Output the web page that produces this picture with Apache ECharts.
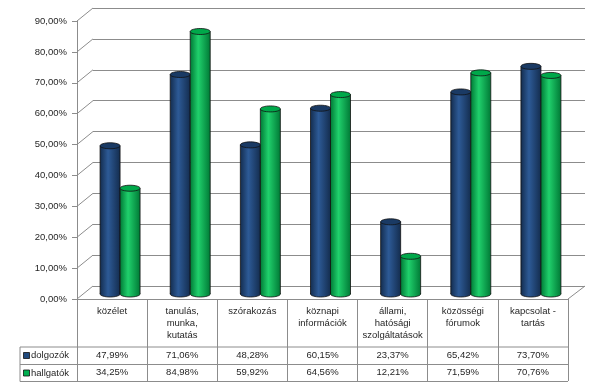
<!DOCTYPE html>
<html><head><meta charset="utf-8">
<script src="https://cdn.jsdelivr.net/npm/echarts@6/dist/echarts.min.js"></script>
<style>html,body{margin:0;padding:0;background:#fff}#c{width:606px;height:389px}</style>
</head><body><div id="c"></div>
<script>
const categories = ["közélet", "tanulás,\nmunka,\nkutatás", "szórakozás", "köznapi\ninformációk", "állami,\nhatósági\nszolgáltatások", "közösségi\nfórumok", "kapcsolat -\ntartás"];
const seriesNames = ["dolgozók", "hallgatók"];
const dolgozok = [47.99, 71.06, 48.28, 60.15, 23.37, 65.42, 73.70];
const hallgatok = [34.25, 84.98, 59.92, 64.56, 12.21, 71.59, 70.76];
const yTicks = [0, 10, 20, 30, 40, 50, 60, 70, 80, 90];

const FONT = 'Liberation Sans';
const GRAY = '#8c8c8c';
const TXT = '#262626';
const pal = [
  {dark: '#142d4f', mid: '#2d5a96', top: '#1a3a64', key: '#1f497d'},
  {dark: '#007a36', mid: '#20d06c', top: '#00a84a', key: '#00b050'}
];
const fmt = v => v.toFixed(2).replace('.', ',') + '%';

function cylinder(params, api) {
  const s = params.seriesIndex - 2;
  const c = pal[s];
  const cat = api.value(0), val = api.value(1);
  const t = api.coord([cat, val]);
  const b = api.coord([cat, 0]);
  const w = 20, rx = 10, ry = 3;
  const cx = t[0] + (s === 0 ? -10 : 10);
  const x0 = cx - rx;
  const grad = new echarts.graphic.LinearGradient(0, 0, 1, 0, [
    {offset: 0, color: c.dark}, {offset: 0.4, color: c.mid}, {offset: 1, color: c.dark}
  ]);
  return {type: 'group', children: [
    {type: 'ellipse', shape: {cx: cx, cy: b[1], rx: rx, ry: ry}, style: {fill: grad, stroke: '#111', lineWidth: 0.8}},
    {type: 'rect', shape: {x: x0, y: t[1], width: w, height: b[1] - t[1]}, style: {fill: grad}},
    {type: 'line', shape: {x1: x0, y1: t[1], x2: x0, y2: b[1]}, style: {stroke: '#111', lineWidth: 0.8}},
    {type: 'line', shape: {x1: x0 + w, y1: t[1], x2: x0 + w, y2: b[1]}, style: {stroke: '#111', lineWidth: 0.8}},
    {type: 'ellipse', shape: {cx: cx, cy: t[1], rx: rx, ry: ry}, style: {fill: c.top, stroke: '#111', lineWidth: 0.8}}
  ]};
}

function sideWall(params, api) {
  const cs = params.coordSys;
  const y = api.coord([0, api.value(0)])[1];
  return {type: 'line', shape: {x1: cs.x, y1: y, x2: cs.x + 16, y2: y - 13}, style: {stroke: GRAY, lineWidth: 1}};
}

function tableValues(params, api) {
  const cs = params.coordSys;
  const i = api.value(0);
  const x = api.coord([i, 0])[0];
  const yb = cs.y + cs.height;
  return {type: 'group', children: [
    {type: 'text', style: {x: x, y: yb + 56, text: fmt(dolgozok[i]), align: 'center', verticalAlign: 'middle', font: '9.5px ' + FONT, fill: TXT}},
    {type: 'text', style: {x: x, y: yb + 73.5, text: fmt(hallgatok[i]), align: 'center', verticalAlign: 'middle', font: '9.5px ' + FONT, fill: TXT}}
  ]};
}

const chart = echarts.init(document.getElementById('c'), null, {renderer: 'canvas'});
chart.setOption({
  animation: false,
  grid: [
    {left: 77, top: 21, width: 491, height: 278},
    {left: 93, top: 8, width: 492, height: 278},
    {left: 85, top: 16, width: 491, height: 278}
  ],
  xAxis: [
    {gridIndex: 0, type: 'category', data: categories, boundaryGap: true,
     axisLine: {lineStyle: {color: GRAY}},
     axisTick: {show: true, interval: 0, length: 82, lineStyle: {color: GRAY}},
     axisLabel: {interval: 0, margin: 7, verticalAlign: 'top', lineHeight: 11.7, fontFamily: FONT, fontSize: 9.5, color: TXT}},
    {gridIndex: 1, type: 'category', data: categories, show: false},
    {gridIndex: 2, type: 'category', data: categories, show: false}
  ],
  yAxis: [
    {gridIndex: 0, type: 'value', min: 0, max: 90, interval: 10,
     axisLine: {show: true, lineStyle: {color: GRAY}},
     axisTick: {show: true, length: 5, lineStyle: {color: GRAY}},
     splitLine: {show: false},
     axisLabel: {margin: 10, formatter: fmt, fontFamily: FONT, fontSize: 9.5, color: TXT}},
    {gridIndex: 1, type: 'value', min: 0, max: 90, interval: 10,
     axisLine: {show: false}, axisTick: {show: false}, axisLabel: {show: false},
     splitLine: {show: true, lineStyle: {color: GRAY, width: 1}}},
    {gridIndex: 2, type: 'value', min: 0, max: 90, show: false, splitLine: {show: false}}
  ],
  series: [
    {type: 'custom', xAxisIndex: 0, yAxisIndex: 0, renderItem: sideWall, data: yTicks.map(v => [v]), silent: true},
    {type: 'custom', xAxisIndex: 0, yAxisIndex: 0, renderItem: tableValues, data: categories.map((c, i) => [i]), silent: true},
    {type: 'custom', name: seriesNames[0], xAxisIndex: 2, yAxisIndex: 2, renderItem: cylinder, data: dolgozok.map((v, i) => [i, v])},
    {type: 'custom', name: seriesNames[1], xAxisIndex: 2, yAxisIndex: 2, renderItem: cylinder, data: hallgatok.map((v, i) => [i, v])}
  ],
  graphic: [
    {type: 'line', shape: {x1: 568, y1: 299, x2: 585, y2: 286}, style: {stroke: GRAY, lineWidth: 1}},
    {type: 'line', shape: {x1: 20, y1: 347, x2: 568, y2: 347}, style: {stroke: GRAY, lineWidth: 1}},
    {type: 'line', shape: {x1: 20, y1: 364.5, x2: 568, y2: 364.5}, style: {stroke: GRAY, lineWidth: 1}},
    {type: 'line', shape: {x1: 20, y1: 381.5, x2: 568, y2: 381.5}, style: {stroke: GRAY, lineWidth: 1}},
    {type: 'line', shape: {x1: 20, y1: 347, x2: 20, y2: 381.5}, style: {stroke: GRAY, lineWidth: 1}},
    {type: 'rect', shape: {x: 23.5, y: 352.5, width: 6, height: 6}, style: {fill: pal[0].key, stroke: '#111', lineWidth: 0.8}},
    {type: 'text', style: {x: 31, y: 355.5, text: seriesNames[0], verticalAlign: 'middle', font: '9.5px ' + FONT, fill: TXT}},
    {type: 'rect', shape: {x: 23.5, y: 370, width: 6, height: 6}, style: {fill: pal[1].key, stroke: '#111', lineWidth: 0.8}},
    {type: 'text', style: {x: 31, y: 373, text: seriesNames[1], verticalAlign: 'middle', font: '9.5px ' + FONT, fill: TXT}}
  ]
});
</script></body></html>
